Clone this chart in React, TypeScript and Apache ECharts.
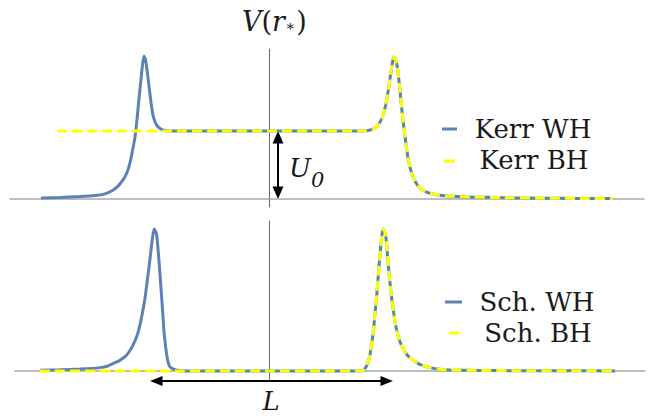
import React, { useEffect, useRef } from "react";
import * as echarts from "echarts";

// x: tortoise coordinate r_* (arbitrary units, 0 at the vertical axis); v: potential V(r_*) in units of U0

// Kerr, left part of the wormhole potential (first peak + plateau)
const kerrWHLeftX = [-22.8, -20.9, -18.9, -17.4, -16.4, -15.7, -15.1, -14.6, -14.2, -13.9, -13.6, -13.4, -13.2, -13.0, -12.8, -12.65, -12.5, -12.35, -12.2, -12.0, -11.8, -11.6, -11.35, -11.1, -10.6, -9.9, -5, 0, 5];
const kerrWHLeftV = [0.015, 0.022, 0.035, 0.05, 0.075, 0.12, 0.19, 0.28, 0.39, 0.53, 0.75, 0.91, 1.17, 1.48, 1.76, 1.97, 2.1, 2.05, 1.9, 1.66, 1.42, 1.23, 1.12, 1.06, 1.015, 1.0, 1.0, 1.0, 1.0];
// Kerr black hole: plateau only on the left
const kerrBHLeftX = [-21.2, -15, -10, -5, 0, 5];
const kerrBHLeftV = [1.0, 1.0, 1.0, 1.0, 1.0, 1.0];
// Kerr, shared right peak and tail
const kerrRightX = [9.1, 9.7, 10.1, 10.43, 10.7, 10.93, 11.2, 11.43, 11.7, 11.93, 12.1, 12.27, 12.4, 12.5, 12.65, 12.8, 12.95, 13.1, 13.25, 13.43, 13.6, 13.77, 14.0, 14.27, 14.6, 15.1, 15.6, 16.1, 16.9, 17.8, 20.1, 23.1, 27.1, 31.1, 34.4];
const kerrRightV = [1.0, 1.005, 1.015, 1.03, 1.06, 1.09, 1.16, 1.24, 1.4, 1.6, 1.77, 1.94, 2.05, 2.09, 2.06, 1.97, 1.8, 1.6, 1.36, 1.12, 0.92, 0.72, 0.53, 0.38, 0.26, 0.16, 0.11, 0.085, 0.06, 0.045, 0.03, 0.02, 0.012, 0.008, 0.006];

// Schwarzschild, left part of the wormhole potential (first peak)
const schWHLeftX = [-22.9, -20.9, -18.9, -17.7, -16.9, -16.2, -15.6, -15.0, -14.4, -14.0, -13.6, -13.2, -12.9, -12.65, -12.4, -12.2, -11.97, -11.8, -11.65, -11.48, -11.33, -11.23, -11.1, -10.97, -10.85, -10.73, -10.6, -10.5, -10.37, -10.23, -10.07, -9.9, -9.6, -9.2, -8.4, 0, 5];
const schWHLeftV = [0.012, 0.018, 0.028, 0.038, 0.05, 0.07, 0.11, 0.15, 0.21, 0.28, 0.38, 0.52, 0.68, 0.86, 1.07, 1.3, 1.56, 1.78, 1.96, 2.09, 2.05, 2.0, 1.8, 1.56, 1.32, 1.07, 0.8, 0.58, 0.4, 0.24, 0.12, 0.06, 0.03, 0.012, 0, 0, 0];
// Schwarzschild black hole: flat on the left
const schBHLeftX = [-22.9, -15, -10, -5, 0, 5];
const schBHLeftV = [0, 0, 0, 0, 0, 0];
// Schwarzschild, shared right peak and tail
const schRightX = [9.1, 9.4, 9.7, 9.9, 10.1, 10.25, 10.43, 10.6, 10.8, 10.95, 11.1, 11.25, 11.4, 11.55, 11.7, 11.93, 12.1, 12.27, 12.45, 12.6, 12.85, 13.1, 13.45, 13.8, 14.3, 14.8, 15.4, 16.1, 17.1, 18.1, 21.1, 25.1, 30.1, 34.6];
const schRightV = [0, 0.01, 0.06, 0.13, 0.24, 0.38, 0.57, 0.85, 1.16, 1.45, 1.71, 1.95, 2.09, 2.06, 1.96, 1.56, 1.3, 1.07, 0.88, 0.72, 0.55, 0.43, 0.32, 0.24, 0.17, 0.12, 0.08, 0.05, 0.025, 0.015, 0.008, 0.005, 0.003, 0.002];

const legendTop = ["Kerr WH", "Kerr BH"];
const legendBottom = ["Sch. WH", "Sch. BH"];

// annotation positions in data units
const u0ArrowX = 0.9; // U0 arrow, from V=0 to V=1 (top panel)
const lArrow = { x0: -11.9, x1: 12.4, v: -0.147 }; // L arrow (bottom panel)

const BLUE = "#5e81b5";
const YELLOW = "#ffff00";
const FONT = "DejaVu Serif";

function zip(xs: number[], ys: number[]) {
  return xs.map((x, i) => [x, ys[i]]);
}

export default function App() {
  const ref = useRef<HTMLDivElement>(null);
  useEffect(() => {
    document.body.style.margin = "0";
    const chart = echarts.init(ref.current!, null, { renderer: "svg" });
    const xAxisBase = {
      type: "value",
      axisLine: { show: true, onZero: true, lineStyle: { color: "#a8a8a8", width: 1.5 } },
      axisTick: { show: false },
      axisLabel: { show: false },
      splitLine: { show: false },
    };
    const yAxisBase = {
      type: "value",
      axisLine: { show: true, onZero: true, lineStyle: { color: "#666", width: 1 } },
      axisTick: { show: false },
      axisLabel: { show: false },
      splitLine: { show: false },
    };
    const lineSeries = (name: string, data: number[][], idx: number, dashed: boolean) => ({
      type: "line",
      name,
      data,
      xAxisIndex: idx,
      yAxisIndex: idx,
      showSymbol: false,
      symbol: "none",
      smooth: 0.2,
      clip: false,
      z: dashed ? 4 : 3,
      lineStyle: dashed
        ? { color: YELLOW, width: 3, type: [10, 5] }
        : { color: BLUE, width: 3 },
    });
    chart.setOption({
      animation: false,
      backgroundColor: "#fff",
      grid: [
        { left: 10, right: 7, top: 49, height: 158 },
        { left: 15, right: 6, top: 221, height: 159 },
      ],
      xAxis: [
        { ...xAxisBase, gridIndex: 0, min: -25.9, max: 37.5 },
        { ...xAxisBase, gridIndex: 1, min: -25.4, max: 37.6 },
      ],
      yAxis: [
        { ...yAxisBase, gridIndex: 0, min: -0.118, max: 2.206 },
        { ...yAxisBase, gridIndex: 1, min: -0.132, max: 2.206 },
      ],
      series: [
        lineSeries(legendTop[0], zip(kerrWHLeftX.concat(kerrRightX), kerrWHLeftV.concat(kerrRightV)), 0, false),
        lineSeries(legendTop[1], zip(kerrBHLeftX.concat(kerrRightX), kerrBHLeftV.concat(kerrRightV)), 0, true),
        lineSeries(legendBottom[0], zip(schWHLeftX.concat(schRightX), schWHLeftV.concat(schRightV)), 1, false),
        lineSeries(legendBottom[1], zip(schBHLeftX.concat(schRightX), schBHLeftV.concat(schRightV)), 1, true),
      ],
    });

    const px = (g: number, pt: number[]) => chart.convertToPixel({ gridIndex: g }, pt) as number[];
    const a0 = px(0, [u0ArrowX, 0]);
    const a1 = px(0, [u0ArrowX, 1]);
    const l0 = px(1, [lArrow.x0, lArrow.v]);
    const l1 = px(1, [lArrow.x1, lArrow.v]);
    const HL = 12.5;
    const HW = 5.5;
    const black = { fill: "#000" };
    const textStyle = (text: string, x: number, y: number, size: number, italic: boolean, align = "left") => ({
      type: "text",
      x,
      y,
      style: {
        text,
        fontFamily: FONT,
        fontSize: size,
        fontStyle: italic ? "italic" : "normal",
        fill: "#1a1a1a",
        align,
        verticalAlign: "middle",
      },
    });
    const graphic: any[] = [
      // U0 arrow
      { type: "line", shape: { x1: a0[0], y1: a0[1] - HL + 1, x2: a1[0], y2: a1[1] + HL - 1 }, style: { stroke: "#000", lineWidth: 2 } },
      { type: "polygon", shape: { points: [[a1[0], a1[1]], [a1[0] - HW, a1[1] + HL], [a1[0] + HW, a1[1] + HL]] }, style: black },
      { type: "polygon", shape: { points: [[a0[0], a0[1]], [a0[0] - HW, a0[1] - HL], [a0[0] + HW, a0[1] - HL]] }, style: black },
      // L arrow
      { type: "line", shape: { x1: l0[0] + HL - 1, y1: l0[1], x2: l1[0] - HL + 1, y2: l1[1] }, style: { stroke: "#000", lineWidth: 2 } },
      { type: "polygon", shape: { points: [[l0[0], l0[1]], [l0[0] + HL, l0[1] - HW + 0.5], [l0[0] + HL, l0[1] + HW - 0.5]] }, style: black },
      { type: "polygon", shape: { points: [[l1[0], l1[1]], [l1[0] - HL, l1[1] - HW + 0.5], [l1[0] - HL, l1[1] + HW - 0.5]] }, style: black },
      // V(r_*) label
      {
        type: "text",
        x: 242,
        y: 21,
        style: {
          text: "{i|V}{n|(}{i|r}{s|\u2217}{n|)}",
          fill: "#1a1a1a",
          align: "left",
          verticalAlign: "middle",
          rich: {
            i: { fontFamily: FONT, fontSize: 27, fontStyle: "italic", fill: "#1a1a1a" },
            n: { fontFamily: FONT, fontSize: 27, fill: "#1a1a1a" },
            s: { fontFamily: FONT, fontSize: 15, fill: "#1a1a1a", padding: [10, 1, 0, 0] },
          },
        },
      },
      // U_0 label
      {
        type: "text",
        x: 289,
        y: 168,
        style: {
          text: "{u|U}{s|0}",
          fill: "#1a1a1a",
          align: "left",
          verticalAlign: "middle",
          rich: {
            u: { fontFamily: FONT, fontSize: 26, fontStyle: "italic", fill: "#1a1a1a" },
            s: { fontFamily: FONT, fontSize: 21, fontStyle: "italic", fill: "#1a1a1a", padding: [24, 0, 0, 0] },
          },
        },
      },
      textStyle("L", 271, 401, 26, true, "center"),
      // legends
      { type: "line", shape: { x1: 442, y1: 129, x2: 457, y2: 129 }, style: { stroke: BLUE, lineWidth: 3 } },
      { type: "line", shape: { x1: 444, y1: 161, x2: 455, y2: 161 }, style: { stroke: YELLOW, lineWidth: 3 } },
      textStyle(legendTop[0], 533, 129, 26, false, "center"),
      textStyle(legendTop[1], 534, 160, 26, false, "center"),
      { type: "line", shape: { x1: 445, y1: 302, x2: 462, y2: 302 }, style: { stroke: BLUE, lineWidth: 3 } },
      { type: "line", shape: { x1: 449, y1: 333, x2: 459, y2: 333 }, style: { stroke: YELLOW, lineWidth: 3 } },
      textStyle(legendBottom[0], 537, 302, 26, false, "center"),
      textStyle(legendBottom[1], 538, 333, 26, false, "center"),
    ];
    chart.setOption({ graphic });
    return () => chart.dispose();
  }, []);
  return <div ref={ref} style={{ position: "fixed", left: 0, top: 0, width: 651, height: 416 }} />;
}
